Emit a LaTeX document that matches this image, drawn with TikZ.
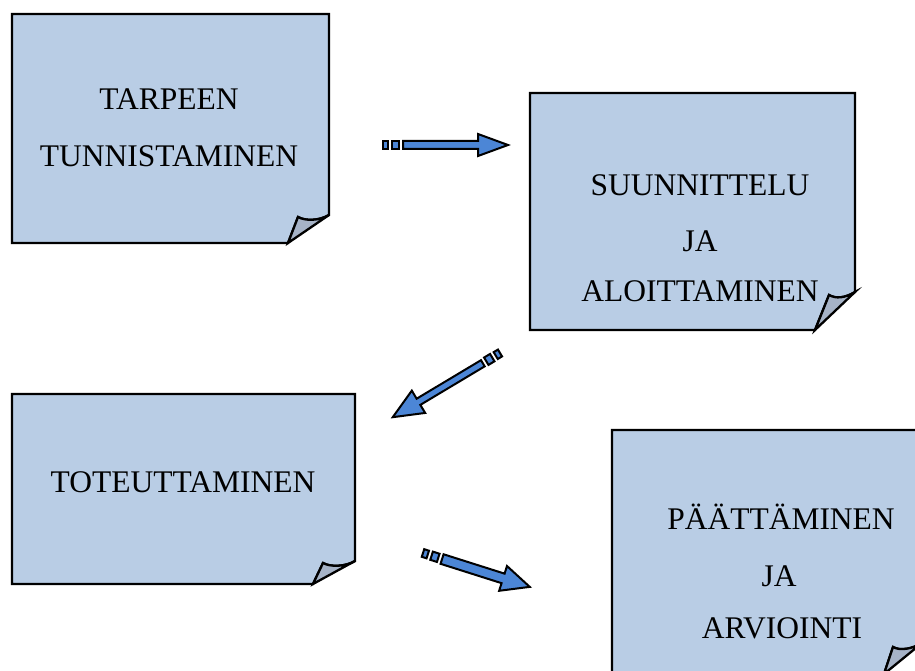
\documentclass[tikz,border=0pt]{standalone}
\usepackage{fontspec}
\setmainfont{Liberation Serif}
\definecolor{notefill}{RGB}{185,205,229}
\definecolor{flapfill}{RGB}{166,179,199}
\definecolor{arrowblue}{RGB}{76,134,214}

% Sheet with a curled lower-right corner.
% #1 name, #2 x1, #3 y1, #4 x2, #5 y2, #6 y of the curl on the right edge,
% #7,#8 tip of the curl, #9 x of the curl on the bottom edge
\newcommand\notebox[9]{%
  \coordinate (#1-nw) at (#2,#3);
  \coordinate (#1-ne) at (#4,#3);
  \coordinate (#1-sw) at (#2,#5);
  \coordinate (#1-r) at (#4,#6);
  \coordinate (#1-tip) at (#7,#8);
  \coordinate (#1-b) at (#9,#5);
  \draw[sheet] (#1-nw) -- (#1-ne) -- (#1-r)
     .. controls ($(#1-r)+(-10,6)$) and ($(#1-tip)+(7,4)$) .. (#1-tip)
     -- (#1-b) -- (#1-sw) -- cycle;
  \draw[flap] (#1-r)
     .. controls ($(#1-r)+(-10,6)$) and ($(#1-tip)+(7,4)$) .. (#1-tip)
     -- (#1-b) -- cycle;
}

% Block arrow along +x in the local frame:
% #1 length, #2 shaft half width, #3 head length, #4 head half width
\newcommand\blockarrow[4]{%
  \draw[barrow] (0,-4) rectangle (5,4);
  \draw[barrow] (9,-4.3) rectangle (16,4.3);
  \draw[barrow] (20,-#2) -- (#1-#3,-#2) -- (#1-#3,-#4) -- (#1,0)
     -- (#1-#3,#4) -- (#1-#3,#2) -- (20,#2) -- cycle;
}

\tikzset{
  sheet/.style={draw=black, fill=notefill, line width=2.3pt, line join=miter},
  flap/.style={draw=black, fill=flapfill, line width=2.3pt, line join=miter},
  barrow/.style={draw=black, fill=arrowblue, line width=2pt, line join=miter},
  lbl/.style={anchor=base, inner sep=0pt, font=\fontsize{31.5}{38}\selectfont},
}
\usetikzlibrary{calc}

\begin{document}
\begin{tikzpicture}[x=1pt, y=-1pt]
\useasboundingbox (0,0) rectangle (915,671);
\clip (0,0) rectangle (915,671);
\fill[white] (0,0) rectangle (915,671);

% sheets
\notebox{b1}{12}{14}{329}{243}{215}{298}{217}{288}
\notebox{b2}{530}{93}{855}{330}{292}{829}{295}{815}
\notebox{b3}{12}{394}{355}{584}{561}{323}{563}{313}
\notebox{b4}{612}{430}{922}{674}{643}{893}{647}{884}

% texts
\node[lbl] (t1a) at (169,110) {TARPEEN};
\node[lbl] (t1b) at (169,167) {TUNNISTAMINEN};
\node[lbl] (t2a) at (700,196) {SUUNNITTELU};
\node[lbl] (t2b) at (700,251) {JA};
\node[lbl] (t2c) at (700,301) {ALOITTAMINEN};
\node[lbl] (t3a) at (183,492) {TOTEUTTAMINEN};
\node[lbl] (t4a) at (781,529) {PÄÄTTÄMINEN};
\node[lbl] (t4b) at (779,586) {JA};
\node[lbl] (t4c) at (782,638) {ARVIOINTI};

% arrows between the stages
\coordinate (a1s) at (383,145);
\coordinate (a2s) at (500,353);
\coordinate (a3s) at (423,553);
\begin{scope}[shift={(a1s)}]
  \blockarrow{125}{4}{30}{11}
\end{scope}
\begin{scope}[shift={(a2s)}, rotate=210.9]
  \blockarrow{125}{3.6}{30}{13}
\end{scope}
\begin{scope}[shift={(a3s)}, rotate=-17.6]
  \blockarrow{112}{5}{28}{13}
\end{scope}
\end{tikzpicture}
\end{document}
